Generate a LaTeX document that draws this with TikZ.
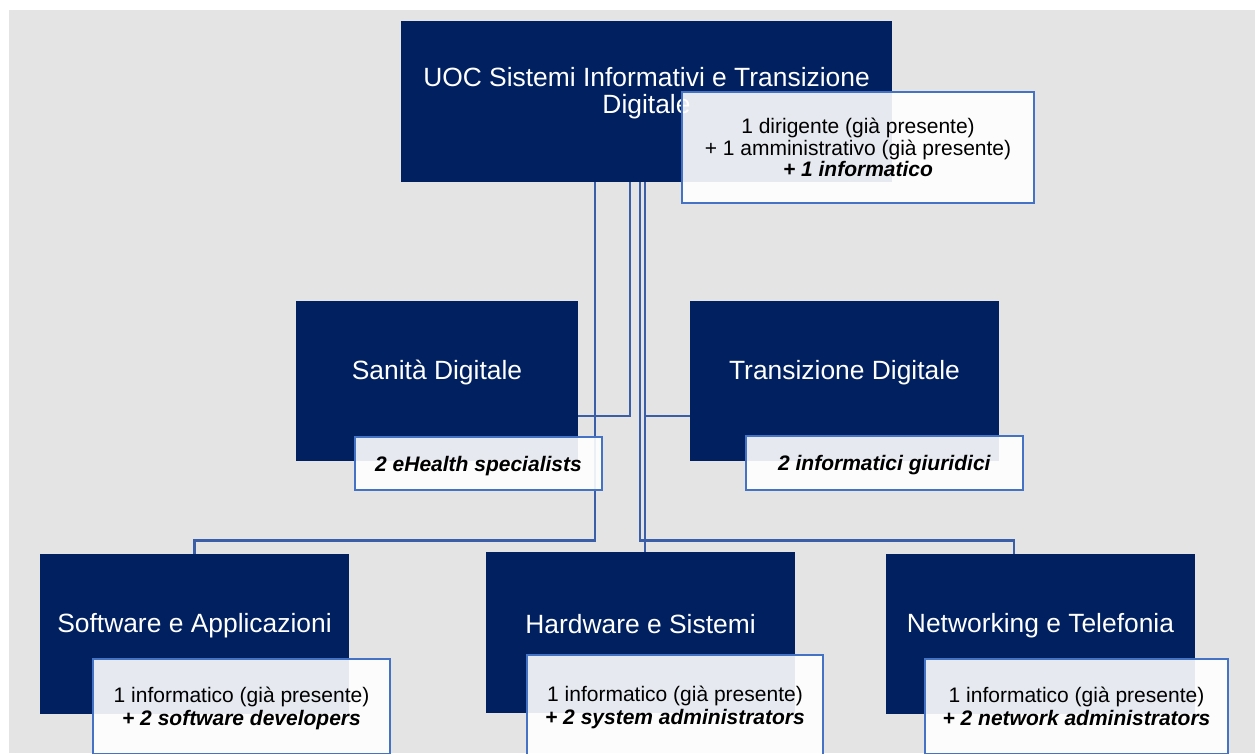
\documentclass[tikz,border=0pt]{standalone}
\usepackage{fontspec}
\setmainfont{Liberation Sans}
\definecolor{uocnavy}{RGB}{0,32,96}
\definecolor{uocline}{RGB}{59,94,168}
\definecolor{uocedge}{RGB}{68,114,196}
\definecolor{uocback}{RGB}{228,228,228}

\begin{document}
\begin{tikzpicture}[x=1pt, y=-1pt,
            unit/.style={fill=uocnavy, minimum width=309pt, minimum height=160pt,
                inner sep=0pt},
            unittxt/.style={text=white, font=\fontsize{26.4}{27}\selectfont, align=center},
            note/.style={draw=uocedge, line width=1.2pt, fill=white, fill opacity=0.9,
                text opacity=1, font=\fontsize{21}{21.5}\selectfont, align=center,
                inner sep=0pt},
            lownote/.style={note, text depth=0pt, font=\fontsize{21}{23}\selectfont},
            conn/.style={uocline, line width=2.6pt}
          ]
          \useasboundingbox (0,0) rectangle (1255,753);
          \fill[uocback] (9,10) rectangle (1255,753);
          % units
          \node[unit, minimum width=491pt, minimum height=161pt] (uoc) at (646.5,101.5) {};
          \node[unit, minimum width=282pt] (san) at (437,381) {};
          \node[unit] (trd) at (844.5,381) {};
          \node[unit] (sw)  at (194.5,634) {};
          \node[unit, minimum height=161pt] (hw) at (640.5,632.5) {};
          \node[unit] (net) at (1040.5,634) {};
          \node[unittxt] (uoctxt) at ([yshift=8.5pt]uoc.center)
          {UOC Sistemi Informativi e Transizione\\Digitale};
          \node[unittxt] (santxt) at ([yshift=8.5pt]san.center) {Sanità Digitale};
          \node[unittxt] (trdtxt) at ([yshift=8.5pt]trd.center) {Transizione Digitale};
          \node[unittxt] (swtxt)  at ([yshift=8.5pt]sw.center)  {Software e Applicazioni};
          \node[unittxt] (hwtxt)  at ([yshift=8.5pt]hw.center)  {Hardware e Sistemi};
          \node[unittxt] (nettxt) at ([yshift=8.5pt]net.center) {Networking e Telefonia};
          % connectors
          \draw[conn] ([xshift=-51.5pt]uoc.south) -- ++(0,358) -| (sw.north);
          \draw[conn] ([xshift=-16.5pt]uoc.south) |- ([yshift=-35pt]san.east);
          \draw[conn] ([xshift=-1.5pt]uoc.south)  |- ([yshift=-35pt]trd.west);
          \draw[conn] ([xshift=-6.5pt]uoc.south)  -- ++(0,358) -| ([xshift=4.5pt]hw.north);
          \draw[conn] ([xshift=-1.5pt]uoc.south)  -- ++(0,358) -| ([xshift=-26.5pt]net.north);
          % staff notes
          \node[note, minimum width=352pt, minimum height=111pt] (uocnote) at (858,147.5)
          {1 dirigente (già presente)\\+ 1 amministrativo (già presente)\\
            \textbf{\textit{+ 1 informatico}}};
          \node[lownote, minimum width=247pt, minimum height=53pt] (sannote) at (478.5,463.5)
          {\textbf{\textit{2 eHealth specialists}}};
          \node[lownote, minimum width=277pt, minimum height=54pt] (trdnote) at (884.5,463)
          {\textbf{\textit{2 informatici giuridici}}};
          \node[lownote, minimum width=297pt, minimum height=95pt] (swnote) at (241.5,706.5)
          {1 informatico (già presente)\\\textbf{\textit{+ 2 software developers}}};
          \node[lownote, minimum width=296pt, minimum height=100pt] (hwnote) at (675,705)
          {1 informatico (già presente)\\\textbf{\textit{+ 2 system administrators}}};
          \node[lownote, minimum width=303pt, minimum height=95pt] (netnote) at (1076.5,706.5)
          {1 informatico (già presente)\\\textbf{\textit{+ 2 network administrators}}};
        \end{tikzpicture}
\end{document}
